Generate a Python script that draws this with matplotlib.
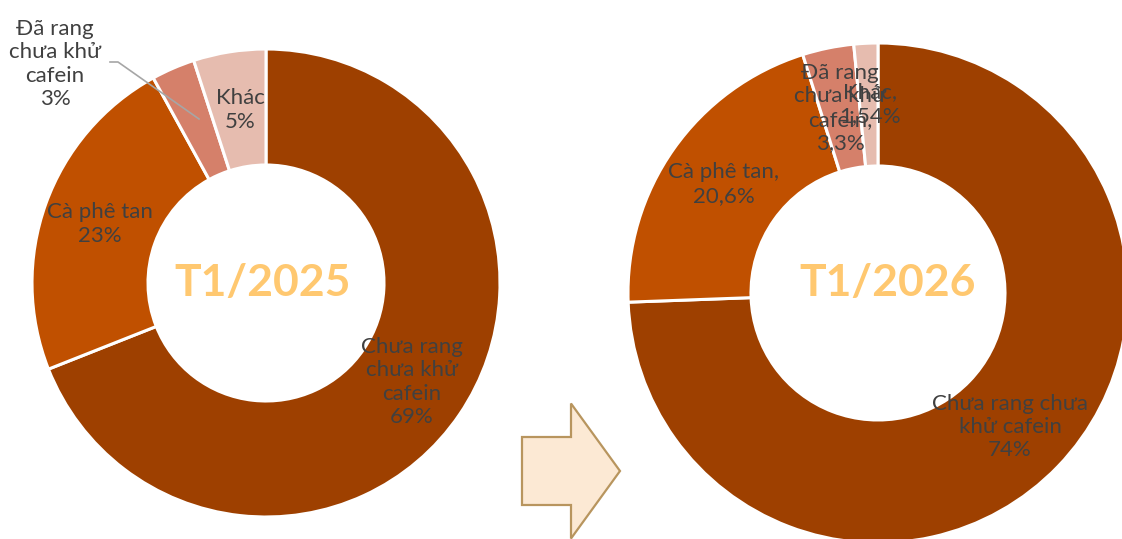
import matplotlib.pyplot as plt
from matplotlib.patches import FancyArrow

# coffee export mix, share by product type (%)
labels_2025 = ["Chưa rang\nchưa khử\ncafein\n69%", "Cà phê tan\n23%", "Đã rang\nchưa khử\ncafein\n3%", "Khác\n5%"]
values_2025 = [69, 23, 3, 5]
labels_2026 = ["Chưa rang chưa\nkhử cafein\n74%", "Cà phê tan,\n20,6%", "Đã rang\nchưa khử\ncafein,\n3,3%", "Khác,\n1,54%"]
values_2026 = [74, 20.6, 3.3, 1.54]
colors = ["#9E4000", "#C05000", "#D5806A", "#E6BCAF"]

W, H = 1122, 539
plt.rcParams['font.family'] = ['Lato', 'DejaVu Sans']
fig = plt.figure(figsize=(W / 100, H / 100), dpi=100)
ax = fig.add_axes([0, 0, 1, 1])

def donut(vals, cx, cy, r, inner):
    ax.pie(vals, colors=colors, startangle=90, counterclock=False,
           center=(cx, H - cy), radius=r,
           wedgeprops=dict(width=r - inner, edgecolor="white", linewidth=2.2))

donut(values_2025, 266, 283, 234, 118)
donut(values_2026, 878, 293, 250, 127)

txt = "#404040"
def label(s, x, y):
    ax.text(x, H - y, s, ha="center", va="center", fontsize=16, color=txt, linespacing=1.2)

# left donut labels
label(labels_2025[0], 412, 382)
label(labels_2025[1], 100, 224)
label(labels_2025[2], 55, 64)
label(labels_2025[3], 240, 110)
ax.plot([110, 118, 199], [H - 62, H - 62, H - 119], color="#A6A6A6", lw=1.2)

# right donut labels
label(labels_2026[0], 1010, 427)
label(labels_2026[1], 724, 184)
label(labels_2026[2], 840, 108)
label(labels_2026[3], 870, 104)

ax.text(263, H - 283, "T1/2025", ha="center", va="center", fontsize=32, fontweight="bold", color="#FFC870")
ax.text(888, H - 283, "T1/2026", ha="center", va="center", fontsize=32, fontweight="bold", color="#FFC870")

ax.add_patch(FancyArrow(522, H - 471, 98, 0, width=68, head_width=135, head_length=49,
                        length_includes_head=True, facecolor="#FCE9D4", edgecolor="#B8955E", linewidth=1.6))

ax.set_xlim(0, W)
ax.set_ylim(0, H)
ax.set_aspect("equal")
ax.axis("off")
fig.savefig("out.png", dpi=100)
